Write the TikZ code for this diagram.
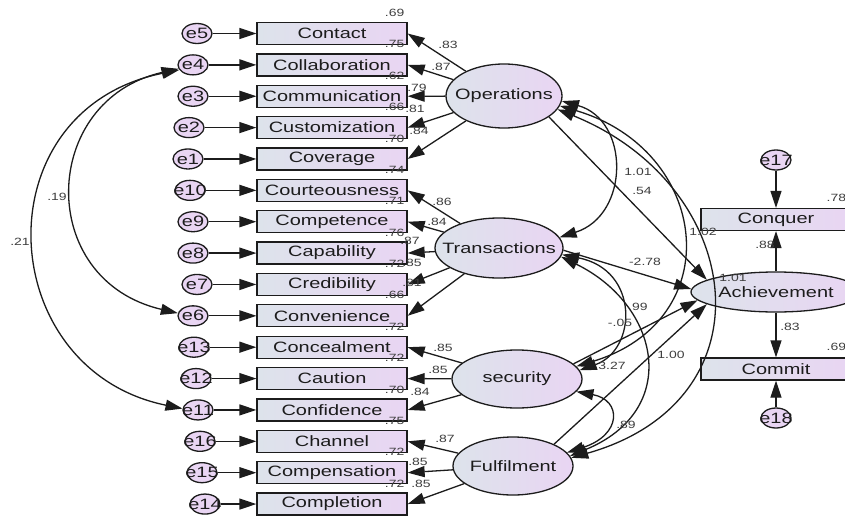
\documentclass[tikz,border=0pt]{standalone}
\usepackage{fontspec}
\setmainfont{Liberation Sans}[FakeStretch=1.33]
\usetikzlibrary{arrows.meta,shapes.geometric}
\definecolor{gb}{RGB}{221,227,235}
\definecolor{lav}{RGB}{233,213,243}
\definecolor{ink}{RGB}{28,28,28}
\tikzset{
 box/.style={draw=ink, line width=1.3pt, left color=gb, right color=lav, minimum width=150pt, minimum height=22pt, inner sep=0pt, font=\fontsize{15}{15}\selectfont, text=ink},
 errc/.style={ellipse, draw=ink, line width=1.3pt, fill=lav, minimum width=30pt, minimum height=20pt, inner sep=0pt},
 lat/.style={ellipse, draw=ink, line width=1.3pt, left color=gb, right color=lav, inner sep=0pt},
 elbl/.style={font=\fontsize{15}{15}\selectfont, text=ink, inner sep=0pt},
 num/.style={font=\fontsize{10.5}{11}\selectfont, text=ink!85, inner sep=0.5pt},
 tip/.tip={Triangle[length=17pt,width=11pt]},
 arr/.style={line width=1.3pt, draw=ink, -tip},
 cov/.style={line width=1.3pt, draw=ink, tip-tip},
}
\begin{document}
\begin{tikzpicture}[x=1pt,y=-1pt]
\fill[white] (0,0) rectangle (845,519);
\useasboundingbox (0,0) rectangle (845,519);

% observed indicators, error terms and squared multiple correlations
\foreach \nm/\er/\ex/\rr [count=\i from 0] in {
 Contact/e5/197/.69, Collaboration/e4/193/.75, Communication/e3/193/.62,
 Customization/e2/189/.66, Coverage/e1/188/.70, Courteousness/e10/190/.74,
 Competence/e9/193/.71, Capability/e8/193/.76, Credibility/e7/197/.72,
 Convenience/e6/193/.66, Concealment/e13/194/.72, Caution/e12/196/.72,
 Confidence/e11/198/.70, Channel/e16/200/.75, Compensation/e15/202/.72,
 Completion/e14/205/.72}{
  \node[box] (\nm) at (332,{33.5+31.37*\i}) {\nm};
  \node[errc, label={[elbl]center:\er}] (\er) at (\ex,{33.5+31.37*\i}) {};
  \node[num, anchor=east] (r\i) at (405,{13+31.37*\i}) {\rr};
}

% latent variables
\node[lat, minimum width=116pt, minimum height=64pt, label={[elbl]center:Operations}] (Op) at (504,96) {};
\node[lat, minimum width=128pt, minimum height=60pt, label={[elbl]center:Transactions}] (Tr) at (499,248) {};
\node[lat, minimum width=130pt, minimum height=58pt, label={[elbl]center:security}] (Se) at (517,379) {};
\node[lat, minimum width=120pt, minimum height=58pt, label={[elbl]center:Fulfilment}] (Fu) at (513,466) {};
\node[lat, minimum width=170pt, minimum height=40pt, label={[elbl]center:Achievement}] (Ach) at (776,292) {};

\node[box] (Conquer) at (776,219.5) {Conquer};
\node[box] (Commit) at (776,369) {Commit};
\node[errc, label={[elbl]center:e17}] (e17) at (776,160) {};
\node[errc, label={[elbl]center:e18}] (e18) at (776,418) {};

% error arrows
\foreach \nm/\er in {Contact/e5, Collaboration/e4, Communication/e3, Customization/e2,
 Coverage/e1, Courteousness/e10, Competence/e9, Capability/e8, Credibility/e7,
 Convenience/e6, Concealment/e13, Caution/e12, Confidence/e11, Channel/e16,
 Compensation/e15, Completion/e14}
  \draw[arr] (\er) -- (\nm);

% loadings
\foreach \b in {Contact,Collaboration,Communication,Customization,Coverage}
  \draw[arr] (Op) -- (\b.east);
\foreach \b in {Courteousness,Competence,Capability,Credibility,Convenience}
  \draw[arr] (Tr) -- (\b.east);
\foreach \b in {Concealment,Caution,Confidence}
  \draw[arr] (Se) -- (\b.east);
\foreach \b in {Channel,Compensation,Completion}
  \draw[arr] (Fu) -- (\b.east);

% error covariances
\draw[cov] (e4.195) .. controls (40,100) and (35,280) .. (e6.170);
\draw[cov] (e4.200) .. controls (-20,110) and (-7,370) .. (e11.175);

% covariances among latents
\draw[cov] (Op.-5) .. controls (630,120) and (630,215) .. (Tr.10);
\draw[cov] (Op.-10) .. controls (710,150) and (730,320) .. (Se.12);
\draw[cov] (Op.-14) .. controls (745,185) and (775,400) .. (Fu.8);
\draw[cov] (Tr.-6) .. controls (640,270) and (637,350) .. (Se.8);
\draw[cov] (Tr.-8) .. controls (660,305) and (682,410) .. (Fu.10);
\draw[cov] (Se.-12) .. controls (622,400) and (622,435) .. (Fu.14);

% structural paths
\draw[arr] (Op.-25) -- (Ach.170);
\draw[arr] (Tr.-2) -- (Ach.178);
\draw[arr] (Se.15) -- (Ach.186);
\draw[arr] (Fu.28) -- (Ach.190);
\draw[arr] (e17) -- (Conquer);
\draw[arr] (Ach) -- (Conquer);
\draw[arr] (Ach) -- (Commit);
\draw[arr] (e18) -- (Commit);

% coefficient labels
\foreach \t/\x/\y [count=\k] in {
 .83/448/45, .87/441/67, .79/417/88, .81/415/109, .84/419/131,
 .86/442/202, .84/437/222, .87/410/241, .85/412/263, .81/412/283,
 .85/443/348, .85/438/370, .84/420/392,
 .87/445/439, .85/418/462, .85/421/484,
 .19/57/197, .21/20/242,
 1.01/638/172, .54/642/191, 1.02/703/232, -2.78/645/262, 1.01/733/278,
 .99/638/307, -.05/620/323, 3.27/612/366, 1.00/671/355, .89/626/425,
 .88/765/245, .83/790/327}
  \node[num] (c\k) at (\x,\y) {\t};
\node[num, anchor=west] (rConquer) at (826,198) {.78};
\node[num, anchor=west] (rCommit) at (826,347) {.69};
\end{tikzpicture}
\end{document}
